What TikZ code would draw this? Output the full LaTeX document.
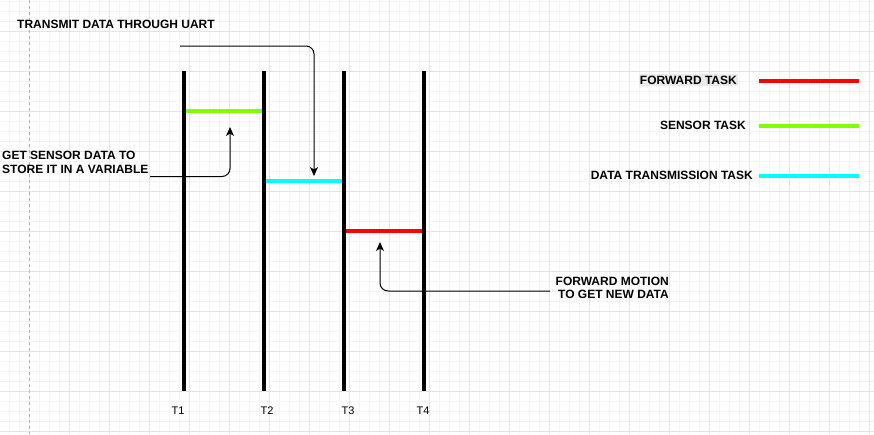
\documentclass[tikz,border=0pt]{standalone}
\usepackage{fontspec}
\setmainfont{Liberation Sans}
\usetikzlibrary{arrows.meta}
\definecolor{gmajor}{HTML}{E4E4E4}
\definecolor{gminor}{HTML}{F4F4F4}
\definecolor{pageln}{HTML}{B0B0B0}
\definecolor{sensorg}{HTML}{80FF00}
\definecolor{txcyan}{HTML}{00FFFF}
\definecolor{fwdred}{HTML}{FF0000}
\definecolor{lblbg}{HTML}{EBEBEB}
\begin{document}
\begin{tikzpicture}[x=1pt,y=-1pt,
  lbl/.style={font=\fontsize{12}{14}\selectfont\bfseries, inner sep=0pt, text=black},
  tlbl/.style={font=\fontsize{11}{13}\selectfont, inner sep=0pt},
  timeline/.style={line width=4pt, black},
  tasklane/.style={line width=4pt},
  callout/.style={line width=1pt, rounded corners=8pt, -{Stealth[length=9pt,width=8pt,inset=2.5pt]}},
]
\useasboundingbox (0,0) rectangle (874,434);
\fill[white] (0,0) rectangle (874,434);
% grid
\foreach \x in {9,19,...,869} \draw[gminor, line width=1pt] (\x,0) -- (\x,434);
\foreach \y in {1,11,...,431} \draw[gminor, line width=1pt] (0,\y) -- (874,\y);
\foreach \x in {69,109,...,869} \draw[gmajor, line width=1pt] (\x,0) -- (\x,434);
\foreach \y in {31,71,...,431} \draw[gmajor, line width=1pt] (0,\y) -- (874,\y);
\draw[pageln, line width=1pt, dash pattern=on 3pt off 3pt] (29.5,0) -- (29.5,434);

% timelines
\coordinate (t1t) at (184,71);  \coordinate (t1b) at (184,391);
\coordinate (t2t) at (264,71);  \coordinate (t2b) at (264,391);
\coordinate (t3t) at (344,71);  \coordinate (t3b) at (344,391);
\coordinate (t4t) at (424,71);  \coordinate (t4b) at (424,391);
\draw[timeline] (t1t) -- (t1b);
\draw[timeline] (t2t) -- (t2b);
\draw[timeline] (t3t) -- (t3b);
\draw[timeline] (t4t) -- (t4b);
\node[tlbl] (T1) at (178,411) {T1};
\node[tlbl] (T2) at (267,411) {T2};
\node[tlbl] (T3) at (348,411) {T3};
\node[tlbl] (T4) at (423,411) {T4};

% task bars
\coordinate (s1) at (186,111); \coordinate (s2) at (262,111);
\coordinate (c1) at (266,181); \coordinate (c2) at (342,181);
\coordinate (f1) at (346,231); \coordinate (f2) at (422,231);
\draw[tasklane, sensorg] (s1) -- (s2);
\draw[tasklane, txcyan] (c1) -- (c2);
\draw[tasklane, fwdred] (f1) -- (f2);

% annotations
\node[lbl, anchor=west] (uart) at (17,24.5) {TRANSMIT DATA THROUGH UART};
\node[lbl, anchor=west, align=left] (getsd) at (2,162.5) {GET SENSOR DATA TO\\STORE IT IN A VARIABLE};
\node[lbl, anchor=east, align=right, font=\fontsize{12}{13}\selectfont\bfseries] (fwdm) at (669,287.5) {FORWARD MOTION\\TO GET NEW DATA};

\coordinate (a1s) at (180,46);    \coordinate (a1e) at (314,176);
\coordinate (a2s) at (150,176.5); \coordinate (a2e) at (230,127);
\coordinate (a3s) at (550,291);   \coordinate (a3e) at (380,242);
\draw[callout] (a1s) -| (a1e);
\draw[callout] (a2s) -| (a2e);
\draw[callout] (a3s) -| (a3e);

% legend
\node[lbl, anchor=east, fill=lblbg, inner xsep=1pt, inner ysep=1.5pt] (lg1) at (738,80) {FORWARD TASK};
\node[lbl, anchor=east] (lg2) at (746,125.5) {SENSOR TASK};
\node[lbl, anchor=east] (lg3) at (753,175.5) {DATA TRANSMISSION TASK};
\coordinate (l1a) at (759,80.7);  \coordinate (l1b) at (859,80.7);
\coordinate (l2a) at (759,125.7); \coordinate (l2b) at (859,125.7);
\coordinate (l3a) at (759,175.7); \coordinate (l3b) at (859,175.7);
\draw[tasklane, fwdred] (l1a) -- (l1b);
\draw[tasklane, sensorg] (l2a) -- (l2b);
\draw[tasklane, txcyan] (l3a) -- (l3b);
\end{tikzpicture}
\end{document}
